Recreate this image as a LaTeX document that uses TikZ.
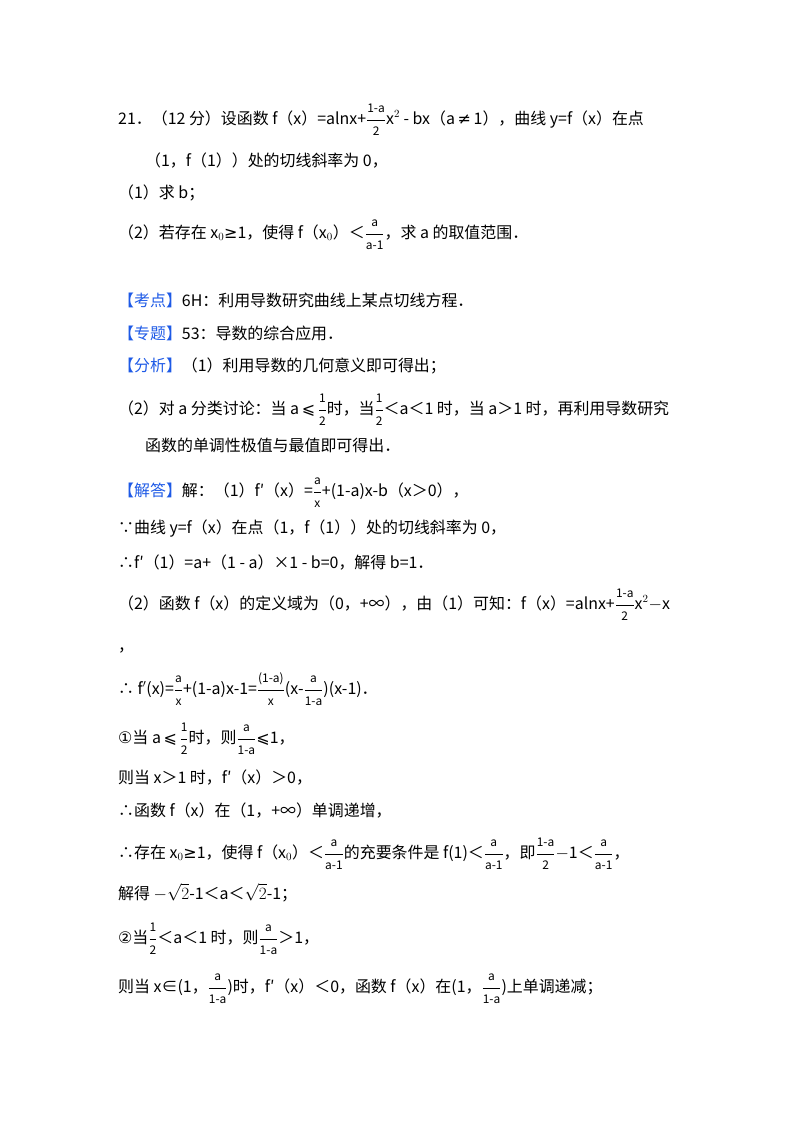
\documentclass[tikz,border=0pt]{standalone}
\usepackage{fontspec}
\setmainfont{Noto Sans CJK SC}
\newfontfamily\dv{DejaVu Sans}
\definecolor{kblue}{RGB}{30,90,230}
\newcommand{\fr}[2]{$\displaystyle\frac{\mbox{\fontsize{12}{12}\selectfont #1}}{\mbox{\fontsize{12}{12}\selectfont #2}}$}
\begin{document}
\begin{tikzpicture}[x=1bp,y=-1bp,t/.style={anchor=base west,inner sep=0pt,font=\fontsize{16}{18}\selectfont}]
\useasboundingbox (0,0) rectangle (800,1132);
\node[t] (l1) at (118,124) {21．（12 分）设函数 f（x）=alnx+\fr{1-a}{2}x$^2$ - bx（a\,{\dv≠}\,1），曲线 y=f（x）在点};
\node[t] (l2) at (145,166) {（1，f（1））处的切线斜率为 0，};
\node[t] (l3) at (118,198) {（1）求 b；};
\node[t] (l4) at (118,238) {（2）若存在 x$_0${\dv≥}1，使得 f（x$_0$）＜\fr{a}{a-1}，求 a 的取值范围．};
\node[t] (l5) at (118,306) {{\color{kblue}【考点】}6H：利用导数研究曲线上某点切线方程．};
\node[t] (l6) at (118,339) {{\color{kblue}【专题】}53：导数的综合应用．};
\node[t] (l7) at (118,371) {{\color{kblue}【分析】}（1）利用导数的几何意义即可得出；};
\node[t] (l8) at (118,414) {（2）对 a 分类讨论：当 a\,{\dv⩽}\,\fr{1}{2}时，当\fr{1}{2}＜a＜1 时，当 a＞1 时，再利用导数研究};
\node[t] (l9) at (145,451) {函数的单调性极值与最值即可得出．};
\node[t] (l10) at (118,496) {{\color{kblue}【解答】}解：（1）f′（x）=\fr{a}{x}+(1-a)x-b（x＞0），};
\node[t] (l11) at (118,533) {∵曲线 y=f（x）在点（1，f（1））处的切线斜率为 0，};
\node[t] (l12) at (118,568) {∴f′（1）=a+（1 - a）×1 - b=0，解得 b=1．};
\node[t] (l13) at (118,609) {（2）函数 f（x）的定义域为（0，+∞），由（1）可知：f（x）=alnx+\fr{1-a}{2}x$^2$$-$x};
\node[t] (l14) at (118,651) {，};
\node[t] (l15) at (118,694) {∴ f$'$(x)=\fr{a}{x}+(1-a)x-1=\fr{(1-a)}{x}(x-\fr{a}{1-a})(x-1)．};
\node[t] (l16) at (118,743) {{\dv①}当 a\,{\dv⩽}\,\fr{1}{2}时，则\fr{a}{1-a}{\dv⩽}1，};
\node[t] (l17) at (118,783) {则当 x＞1 时，f′（x）＞0，};
\node[t] (l18) at (118,816) {∴函数 f（x）在（1，+∞）单调递增，};
\node[t] (l19) at (118,858) {∴存在 x$_0${\dv≥}1，使得 f（x$_0$）＜\fr{a}{a-1}的充要条件是 f(1)＜\fr{a}{a-1}，即\fr{1-a}{2}$-$1＜\fr{a}{a-1}，};
\node[t] (l20) at (118,899) {解得 $-\sqrt{2}$-1＜a＜$\sqrt{2}$-1；};
\node[t] (l21) at (118,943) {{\dv②}当\fr{1}{2}＜a＜1 时，则\fr{a}{1-a}＞1，};
\node[t] (l22) at (118,992) {则当 x∈(1，\fr{a}{1-a})时，f′（x）＜0，函数 f（x）在(1，\fr{a}{1-a})上单调递减；};
\end{tikzpicture}
\end{document}
